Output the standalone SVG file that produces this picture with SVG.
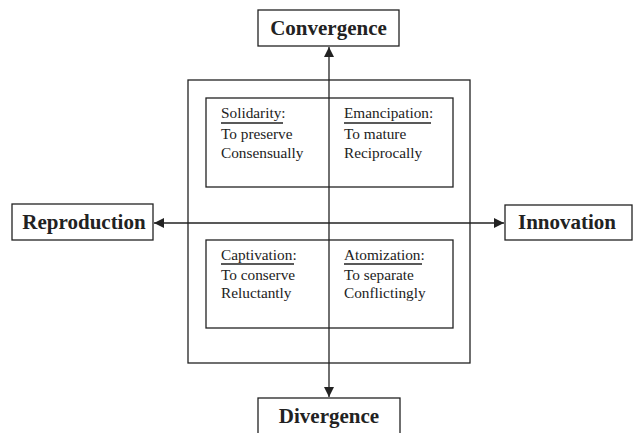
<svg xmlns="http://www.w3.org/2000/svg" width="634" height="433" viewBox="0 0 634 433">
<defs>
<style>
.box{fill:#fff;stroke:#222;stroke-width:1.3}
.frame{fill:none;stroke:#222;stroke-width:1.3}
.t{font-family:"Liberation Serif","Times New Roman",serif;font-size:15.3px;fill:#222}
.b{font-family:"Liberation Serif","Times New Roman",serif;font-size:21px;font-weight:bold;fill:#222;text-anchor:middle}
.ln{stroke:#222;stroke-width:1.3;fill:none}
</style>
<marker id="ah" viewBox="0 0 10 10" refX="10" refY="5" markerWidth="10" markerHeight="10" markerUnits="userSpaceOnUse" orient="auto-start-reverse">
<path d="M0,0 L10,5 L0,10 z" fill="#222"/>
</marker>
</defs>
<g id="frame"><rect class="frame" x="188" y="80" width="282" height="283"/></g>
<g id="q-top"><rect class="frame" x="206" y="98" width="247" height="89"/></g>
<g id="q-bottom"><rect class="frame" x="206" y="240" width="247" height="88"/></g>
<g id="connectors">
<line class="ln" x1="329" y1="397" x2="329" y2="47" marker-start="url(#ah)" marker-end="url(#ah)"/>
<line class="ln" x1="154" y1="223" x2="504" y2="223" marker-start="url(#ah)" marker-end="url(#ah)"/>
</g>
<g id="solidarity">
<text class="t" x="221" y="118">Solidarity:</text>
<line class="ln" x1="221" y1="123" x2="283" y2="123"/>
<text class="t" x="221" y="139">To preserve</text>
<text class="t" x="221" y="158">Consensually</text>
</g>
<g id="emancipation">
<text class="t" x="344" y="118">Emancipation:</text>
<line class="ln" x1="344" y1="123" x2="431" y2="123"/>
<text class="t" x="344" y="139">To mature</text>
<text class="t" x="344" y="158">Reciprocally</text>
</g>
<g id="captivation">
<text class="t" x="221" y="260">Captivation:</text>
<line class="ln" x1="221" y1="264" x2="294" y2="264"/>
<text class="t" x="221" y="280">To conserve</text>
<text class="t" x="221" y="298">Reluctantly</text>
</g>
<g id="atomization">
<text class="t" x="344" y="260">Atomization:</text>
<line class="ln" x1="344" y1="264" x2="422" y2="264"/>
<text class="t" x="344" y="280">To separate</text>
<text class="t" x="344" y="298">Conflictingly</text>
</g>
<g id="convergence"><rect class="box" x="258" y="10" width="141" height="36"/><text class="b" x="328.5" y="35">Convergence</text></g>
<g id="divergence"><rect class="box" x="258" y="398" width="142" height="40"/><text class="b" x="329" y="423">Divergence</text></g>
<g id="reproduction"><rect class="box" x="12" y="204" width="141" height="36"/><text class="b" x="84" y="229">Reproduction</text></g>
<g id="innovation"><rect class="box" x="505" y="205" width="127" height="35"/><text class="b" x="567" y="229">Innovation</text></g>
</svg>
